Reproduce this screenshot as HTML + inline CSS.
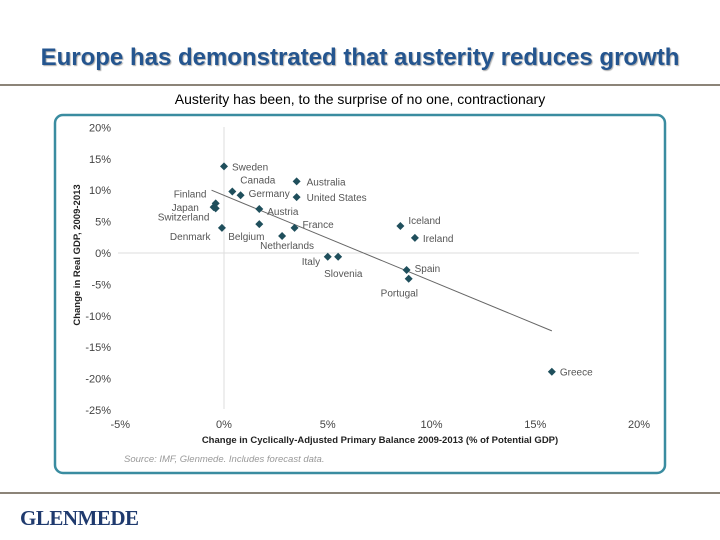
<!DOCTYPE html>
<html><head><meta charset="utf-8"><style>
body{margin:0;width:720px;height:540px;background:#fff;font-family:"Liberation Sans",sans-serif;overflow:hidden;position:relative}
#title{position:absolute;left:0;top:44px;width:720px;text-align:center;font-size:24px;font-weight:bold;color:#24558f;text-shadow:1px 1px 1px #aaa}
#rule1{position:absolute;left:0;top:84px;width:720px;height:2px;background:#8c8478}
#sub{position:absolute;left:0;top:91px;width:720px;text-align:center;font-size:14px;color:#000}
#rule2{position:absolute;left:0;top:492px;width:720px;height:2px;background:#8c8478}
#logo{position:absolute;left:20px;top:506px;font-family:"Liberation Serif",serif;font-size:21px;color:#1f3a6e;font-weight:bold;letter-spacing:-0.5px}
svg{position:absolute;left:0;top:0}
</style></head><body>
<div id="title">Europe has demonstrated that austerity reduces growth</div>
<div id="rule1"></div>
<div id="sub">Austerity has been, to the surprise of no one, contractionary</div>
<svg id="chart" width="720" height="540"></svg>
<div id="rule2"></div>
<div id="logo">GLENMEDE</div>
<script>
const countries=["Sweden","Canada","Germany","Australia","United States","Finland","Japan","Switzerland","Austria","Denmark","Belgium","Netherlands","France","Italy","Slovenia","Iceland","Ireland","Spain","Portugal","Greece"];
const xVals=[0,0.4,0.8,3.5,3.5,-0.4,-0.5,-0.4,1.7,-0.1,1.7,2.8,3.4,5.0,5.5,8.5,9.2,8.8,8.9,15.8];
const yVals=[13.8,9.8,9.2,11.4,8.9,7.9,7.3,7.1,7.0,4.0,4.6,2.7,4.0,-0.6,-0.6,4.3,2.4,-2.7,-4.1,-18.9];
const labelDx=[8,8,8,10,10,-42,-42,-58,8,-52,-31,-22,8,-26,-14,8,8,8,-28,8];
const labelDy=[0,-12,-2,0,0,-10,0,8,2,8,12,9,-4,4,16,-6,0,-2,14,0];
const xTicks=[-5,0,5,10,15,20];
const yTicks=[20,15,10,5,0,-5,-10,-15,-20,-25];
const trendX=[-0.6,15.8];
const trendY=[10,-12.4];
const sx=v=>224+v*20.75, sy=v=>253-v*6.28;
const svg=document.getElementById('chart');const NS='http://www.w3.org/2000/svg';
function mk(t,a,txt){const e=document.createElementNS(NS,t);for(const k in a)e.setAttribute(k,a[k]);if(txt!=null)e.textContent=txt;svg.appendChild(e);return e;}
let e=mk('rect',{x:55,y:115,width:610,height:358,rx:8,fill:'#fff',stroke:'#3a8ca0','stroke-width':2.5});


e=mk('line',{x1:118,y1:sy(0),x2:639,y2:sy(0),stroke:'#ddd'});


e=mk('line',{x1:sx(0),y1:127,x2:sx(0),y2:409,stroke:'#ddd'});


xTicks.forEach(t=>{e=mk('text',{x:sx(t),y:428,'font-size':11,'text-anchor':'middle',fill:'#444'},t+'%');

});
yTicks.forEach(t=>{e=mk('text',{x:111,y:sy(t)+4,'font-size':11,'text-anchor':'end',fill:'#444'},t+'%');

});
e=mk('text',{x:380,y:443,'font-size':9.5,'font-weight':'bold','text-anchor':'middle',fill:'#222'},'Change in Cyclically-Adjusted Primary Balance 2009-2013 (% of Potential GDP)');


e=mk('text',{x:80,y:255,'font-size':9.5,'font-weight':'bold','text-anchor':'middle',fill:'#222',transform:'rotate(-90 80 255)'},'Change in Real GDP, 2009-2013');


e=mk('text',{x:124,y:462,'font-size':9.5,'font-style':'italic',fill:'#999'},'Source: IMF, Glenmede. Includes forecast data.');


e=mk('line',{x1:sx(trendX[0]),y1:sy(trendY[0]),x2:sx(trendX[1]),y2:sy(trendY[1]),stroke:'#666','stroke-width':1});


countries.forEach((c,i)=>{const x=sx(xVals[i]),y=sy(yVals[i]);
e=mk('path',{d:`M${x} ${y-4}L${x+4} ${y}L${x} ${y+4}L${x-4} ${y}Z`,fill:'#1f4f5c'});


e=mk('text',{x:x+labelDx[i],y:y+labelDy[i]+4,'font-size':10,fill:'#555'},c);

});
</script>
</body></html>
